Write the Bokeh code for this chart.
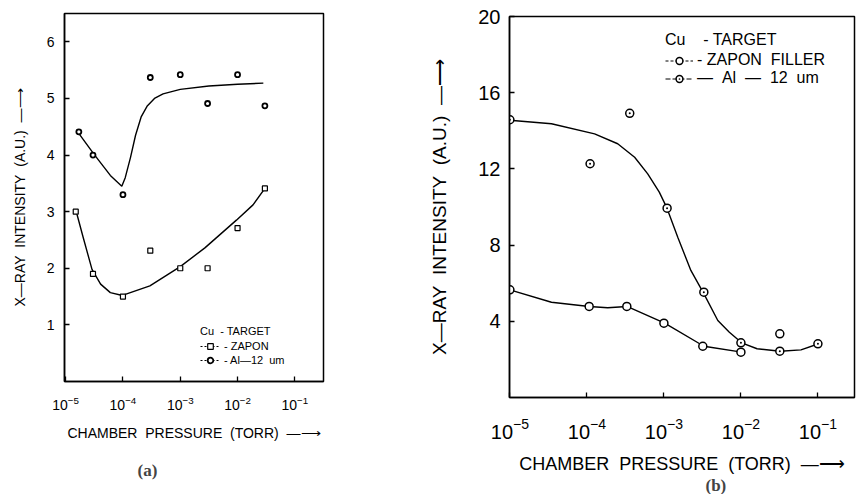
import numpy as np
from bokeh.plotting import figure
from bokeh.models import Range1d, FixedTicker, Legend, LegendItem, Title
from bokeh.layouts import row, column
from bokeh.embed import file_html
from bokeh.resources import INLINE

FONT = "Liberation Sans"

# ---------------- panel (a) data ----------------
a_al_p = [1.7e-5, 3e-5, 1e-4, 3e-4, 1e-3, 3e-3, 1e-2, 3e-2]
a_al_v = [4.41, 4.00, 3.30, 5.37, 5.42, 4.91, 5.42, 4.87]
a_zap_p = [1.5e-5, 3e-5, 1e-4, 3e-4, 1e-3, 3e-3, 1e-2, 3e-2]
a_zap_v = [3.00, 1.90, 1.50, 2.31, 2.00, 2.00, 2.71, 3.41]

# fitted curves (log10 pressure, intensity)
a_al_fit_logp = [-4.79, -4.51, -4.22, -4.02, -3.96, -3.87, -3.78, -3.68, -3.58, -3.45, -3.30, -3.00, -2.50, -2.00, -1.55]
a_al_fit_v = [4.41, 4.02, 3.64, 3.45, 3.60, 3.95, 4.35, 4.68, 4.86, 5.00, 5.08, 5.16, 5.22, 5.25, 5.27]
a_zap_fit_logp = [-4.82, -4.69, -4.54, -4.39, -4.22, -4.01, -3.53, -3.00, -2.57, -2.02, -1.73, -1.51]
a_zap_fit_v = [3.02, 2.53, 1.98, 1.72, 1.57, 1.52, 1.69, 2.03, 2.36, 2.85, 3.12, 3.43]

a_xticks = [1e-5, 1e-4, 1e-3, 1e-2, 1e-1]
a_yticks = [1, 2, 3, 4, 5, 6]

# ---------------- panel (b) data ----------------
b_al_p = [1e-5, 1.1e-4, 3.6e-4, 1.1e-3, 3.3e-3, 1e-2, 3.2e-2, 1e-1]
b_al_v = [14.58, 12.27, 14.92, 9.94, 5.53, 2.87, 2.43, 2.82]
b_zap_p = [1e-5, 1.07e-4, 3.3e-4, 1e-3, 3.2e-3, 1e-2, 3.2e-2]
b_zap_v = [5.65, 4.78, 4.78, 3.90, 2.69, 2.38, 3.34]

b_al_fit_logp = [-5.0, -4.46, -3.90, -3.60, -3.38, -3.21, -3.06, -2.96, -2.82, -2.65, -2.48, -2.30, -2.15, -1.99, -1.79, -1.49, -1.22, -0.99]
b_al_fit_v = [14.55, 14.37, 13.84, 13.32, 12.61, 11.74, 10.78, 9.94, 8.41, 6.67, 5.44, 4.04, 3.43, 2.87, 2.56, 2.43, 2.50, 2.82]
b_zap_fit_logp = [-5.0, -4.46, -3.97, -3.73, -3.48, -2.99, -2.48, -1.99]
b_zap_fit_v = [5.65, 5.00, 4.78, 4.71, 4.78, 3.90, 2.69, 2.38]

b_xticks = [1e-5, 1e-4, 1e-3, 1e-2, 1e-1]
b_yticks = [4, 8, 12, 16, 20]

XLABEL = "CHAMBER\u00a0\u00a0PRESSURE\u00a0\u00a0(TORR)\u00a0\u00a0\u2014\u27f6"
YLABEL = "X\u2014RAY\u00a0\u00a0INTENSITY\u00a0\u00a0(A.U.)\u00a0\u00a0\u2014\u27f6"


def style(p, xticks, yticks, tick_fs, xlabel_fs, ylabel_fs, x_std, y_std, x_lbl_std, y_lbl_std):
    p.xgrid.visible = False
    p.ygrid.visible = False
    p.outline_line_color = "black"
    p.outline_line_width = 1.5
    p.background_fill_color = "white"
    p.border_fill_color = "white"
    p.xaxis.ticker = FixedTicker(ticks=xticks)
    p.yaxis.ticker = FixedTicker(ticks=yticks)
    for ax in (p.xaxis, p.yaxis):
        ax.axis_line_color = "black"
        ax.axis_line_width = 1.5
        ax.major_tick_line_color = "black"
        ax.major_tick_line_width = 1.3
        ax.major_tick_in = 5
        ax.major_tick_out = 0
        ax.minor_tick_line_color = None
        ax.major_label_text_font = FONT
        ax.major_label_text_font_size = tick_fs
        ax.major_label_text_color = "black"
        ax.axis_label_text_font = FONT
        ax.axis_label_text_font_style = "normal"
        ax.axis_label_text_color = "black"
    p.xaxis.axis_label_text_font_size = xlabel_fs
    p.yaxis.axis_label_text_font_size = ylabel_fs
    p.xaxis.major_label_standoff = x_std
    p.yaxis.major_label_standoff = y_std
    p.xaxis.axis_label_standoff = x_lbl_std
    p.yaxis.axis_label_standoff = y_lbl_std
    p.xaxis.axis_label = XLABEL
    p.yaxis.axis_label = YLABEL


def make_legend(title, items, loc, fs, gw, gh):
    return Legend(items=items, title=title, location=loc,
                  background_fill_alpha=0, border_line_color=None,
                  inactive_fill_alpha=0,
                  padding=0, margin=0, spacing=0, glyph_width=gw, glyph_height=gh,
                  label_height=gh, label_standoff=4, title_standoff=2,
                  label_text_font=FONT, label_text_font_size=fs, label_text_color="black",
                  title_text_font=FONT, title_text_font_size=fs, title_text_color="black",
                  title_text_font_style="normal")


# ---------------- panel (a) ----------------
p1 = figure(width=400, height=494, x_axis_type="log",
            x_range=Range1d(10 ** -5.02, 10 ** -0.5), y_range=Range1d(0, 6.5),
            output_backend="svg", toolbar_location=None,
            min_border_left=64, min_border_right=77, min_border_top=13, min_border_bottom=111)
style(p1, a_xticks, a_yticks, "14px", "14px", "14px", 14, 10, 12, 16)

p1.line([10 ** v for v in a_al_fit_logp], a_al_fit_v, line_color="black", line_width=1.4)
p1.line([10 ** v for v in a_zap_fit_logp], a_zap_fit_v, line_color="black", line_width=1.4)
s1_al = p1.scatter(a_al_p, a_al_v, marker="circle", size=5, line_color="black", line_width=1.8, fill_color="white")
s1_zap = p1.scatter(a_zap_p, a_zap_v, marker="square", size=5, line_color="black", line_width=1.2, fill_color="white")
d1_zap = p1.line([10 ** v for v in a_zap_fit_logp], a_zap_fit_v, line_color="black", line_dash="2 2", line_width=1, visible=False)
d1_al = p1.line([10 ** v for v in a_al_fit_logp], a_al_fit_v, line_color="black", line_dash="2 2", line_width=1, visible=False)

leg1 = make_legend("Cu\u00a0\u00a0- TARGET",
                   [LegendItem(label="- ZAPON", renderers=[d1_zap, s1_zap]),
                    LegendItem(label="- Al\u201412\u00a0\u00a0um", renderers=[d1_al, s1_al])],
                   (136, 14), "11px", 20, 14)
p1.add_layout(leg1)
p1.add_layout(Title(text="(a)", align="left", offset=73, standoff=30,
                    text_font="Liberation Serif", text_font_style="bold", text_font_size="17px"), "below")

# ---------------- panel (b) ----------------
p2 = figure(width=456, height=494, x_axis_type="log",
            x_range=Range1d(10 ** -5.005, 10 ** -0.525), y_range=Range1d(0, 20),
            output_backend="svg", toolbar_location=None,
            min_border_left=109, min_border_right=2, min_border_top=16, min_border_bottom=97)
style(p2, b_xticks, b_yticks, "20px", "18px", "19px", 20, 9, 12, 25)

p2.line([10 ** v for v in b_al_fit_logp], b_al_fit_v, line_color="black", line_width=1.4)
p2.line([10 ** v for v in b_zap_fit_logp], b_zap_fit_v, line_color="black", line_width=1.4)
s2_al = p2.scatter(b_al_p, b_al_v, marker="circle_dot", size=8, line_color="black", line_width=1.5, fill_color="white")
s2_zap = p2.scatter(b_zap_p, b_zap_v, marker="circle", size=8, line_color="black", line_width=1.5, fill_color="white")
d2_zap = p2.line([10 ** v for v in b_zap_fit_logp], b_zap_fit_v, line_color="black", line_dash="3 2", line_width=1, visible=False)
d2_al = p2.line([10 ** v for v in b_al_fit_logp], b_al_fit_v, line_color="black", line_dash="5 2", line_width=1, visible=False)

leg2 = make_legend("Cu\u00a0\u00a0\u00a0\u00a0- TARGET",
                   [LegendItem(label="- ZAPON\u00a0\u00a0FILLER", renderers=[d2_zap, s2_zap]),
                    LegendItem(label="\u2014\u00a0\u00a0Al\u00a0\u00a0\u2014\u00a0\u00a012\u00a0\u00a0um", renderers=[d2_al, s2_al])],
                   (156, 310), "16px", 28, 17)
p2.add_layout(leg2)
p2.add_layout(Title(text="(b)", align="left", offset=196, standoff=-6,
                    text_font="Liberation Serif", text_font_style="bold", text_font_size="17px"), "below")

layout = row(column(p1), column(p2), spacing=0)
open("out.html", "w").write(file_html(layout, INLINE))
